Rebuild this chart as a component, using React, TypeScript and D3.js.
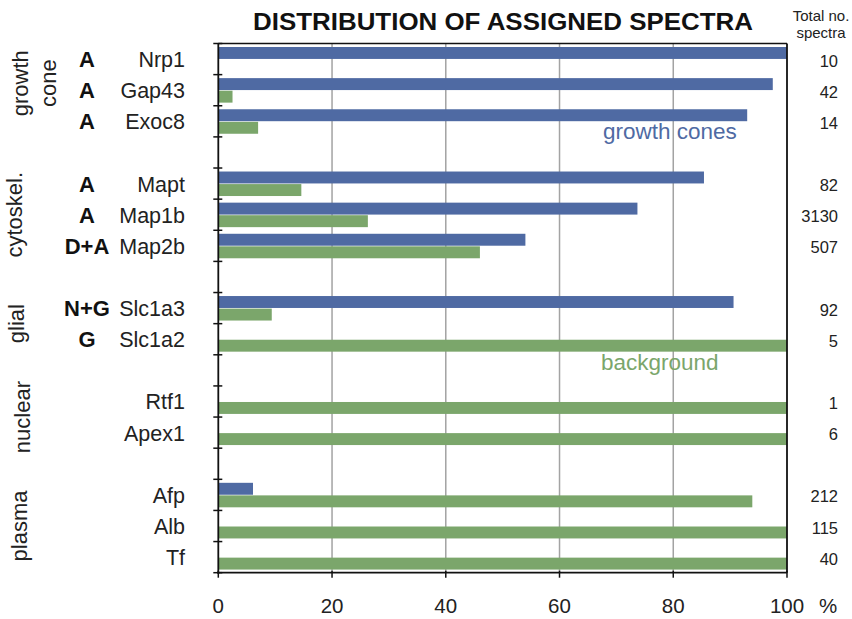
import React from "react";
import * as d3 from "d3";

// Proteins, their localisation codes and share of assigned spectra (%)
const genes = ["Nrp1", "Gap43", "Exoc8", "Mapt", "Map1b", "Map2b", "Slc1a3", "Slc1a2", "Rtf1", "Apex1", "Afp", "Alb", "Tf"];
const codes = ["A", "A", "A", "A", "A", "D+A", "N+G", "G", "", "", "", "", ""];
const growthCones = [100, 97.5, 93, 85.4, 73.7, 54, 90.6, 0, 0, 0, 6.1, 0, 0];
const background = [0, 2.5, 7, 14.6, 26.3, 46, 9.4, 100, 100, 100, 93.9, 100, 100];
const totals = [10, 42, 14, 82, 3130, 507, 92, 5, 1, 6, 212, 115, 40];

// Functional groups (rows per group) and their side labels
const groupSizes = [3, 3, 2, 2, 3];
const groupLabels = [["growth", "cone"], ["cytoskel."], ["glial"], ["nuclear"], ["plasma"]];

const xTicks = [0, 20, 40, 60, 80, 100];
const seriesKeys = ["growth cones", "background"];

const W = 852;
const H = 619;
const FONT = "'Liberation Sans', Arial, Helvetica, sans-serif";
const BLUE = "#4f6aa3";
const GREEN = "#7ba66b";

// Row slots: genes with an empty spacer slot between groups
const slots: string[] = [];
{
  let k = 0;
  groupSizes.forEach((n, gi) => {
    for (let i = 0; i < n; i++) slots.push(genes[k++]);
    if (gi < groupSizes.length - 1) slots.push(`__gap${gi}`);
  });
}

const x = d3.scaleLinear().domain([0, 100]).range([218.3, 787]);
const y = d3.scaleBand<string>().domain(slots).range([43.5, 572.7]).padding(0);
const inner = d3.scaleBand<string>().domain(seriesKeys).range([3.5, 28]).paddingInner(0.05);

const groupCenter = (gi: number) => {
  const start = groupSizes.slice(0, gi).reduce((a, b) => a + b, 0);
  const first = genes[start];
  const last = genes[start + groupSizes[gi] - 1];
  return ((y(first) as number) + (y(last) as number) + y.bandwidth()) / 2;
};

// Baseline positions of the rotated group labels (per line)
const groupLabelX = [[28, 56], [22], [24], [30], [27]];
const groupLabelDy = [-7, 0, 0, 0, 0];

export default function App() {
  const bw = y.bandwidth();
  const boundaries = slots.map((s) => y(s) as number).concat([572.7]);
  const [x0, x1] = x.range();
  const top = y.range()[0];
  const bottom = y.range()[1];

  return (
    <svg
      width={W}
      height={H}
      style={{ position: "absolute", left: 0, top: 0, background: "#fff", fontFamily: FONT }}
    >
      <rect x={0} y={0} width={W} height={H} fill="#fff" />

      {/* title */}
      <text
        x={503}
        y={30}
        textAnchor="middle"
        fontSize={24}
        fontWeight="bold"
        textLength={500}
        lengthAdjust="spacingAndGlyphs"
        fill="#111"
      >
        DISTRIBUTION OF ASSIGNED SPECTRA
      </text>

      {/* column header */}
      <text x={821} y={21} textAnchor="middle" fontSize={15} fill="#222">Total no.</text>
      <text x={821} y={38} textAnchor="middle" fontSize={15} fill="#222">spectra</text>

      {/* vertical grid lines */}
      {xTicks.slice(1, -1).map((t) => (
        <line key={t} x1={x(t)} x2={x(t)} y1={top} y2={bottom} stroke="#a3a3a3" strokeWidth={1.5} />
      ))}

      {/* bars */}
      {genes.map((g, i) => {
        const y0 = y(g) as number;
        return (
          <g key={g}>
            {growthCones[i] > 0 && (
              <rect
                x={x(0)}
                y={y0 + (inner("growth cones") as number)}
                width={x(growthCones[i]) - x(0)}
                height={inner.bandwidth()}
                fill={BLUE}
              />
            )}
            {background[i] > 0 && (
              <rect
                x={x(0)}
                y={y0 + (inner("background") as number)}
                width={x(background[i]) - x(0)}
                height={inner.bandwidth()}
                fill={GREEN}
              />
            )}
          </g>
        );
      })}

      {/* frame */}
      <line x1={x0} x2={x1} y1={top} y2={top} stroke="#111" strokeWidth={1.5} />
      <line x1={x1} x2={x1} y1={top} y2={bottom} stroke="#111" strokeWidth={1.8} />
      <line x1={x0} x2={x0} y1={top} y2={bottom + 1} stroke="#111" strokeWidth={1.8} />
      <line x1={x0 - 1} x2={x1} y1={bottom} y2={bottom} stroke="#111" strokeWidth={1.8} />

      {/* y tick marks at slot boundaries */}
      {boundaries.map((b, i) => (
        <line key={i} x1={x0 - 5} x2={x0 + 4} y1={b} y2={b} stroke="#111" strokeWidth={1.5} />
      ))}

      {/* x ticks and labels */}
      {xTicks.map((t) => (
        <g key={t}>
          <line x1={x(t)} x2={x(t)} y1={bottom - 2} y2={bottom + 5} stroke="#111" strokeWidth={1.5} />
          <text x={x(t)} y={613} textAnchor="middle" fontSize={20.5} fill="#222">{t}</text>
        </g>
      ))}
      <text x={828} y={613} textAnchor="middle" fontSize={20.5} fill="#222">%</text>

      {/* gene names, localisation codes, totals */}
      {genes.map((g, i) => {
        const cy = (y(g) as number) + bw / 2;
        return (
          <g key={g}>
            <text x={185} y={cy + 8} textAnchor="end" fontSize={21.5} fill="#222">{g}</text>
            {codes[i] && (
              <text x={87} y={cy + 8} textAnchor="middle" fontSize={22} fontWeight="bold" fill="#111">
                {codes[i]}
              </text>
            )}
            <text x={838} y={cy + 7.5} textAnchor="end" fontSize={16.5} fill="#222">{totals[i]}</text>
          </g>
        );
      })}

      {/* rotated group labels */}
      {groupLabels.map((lines, gi) => {
        const cy = groupCenter(gi) + groupLabelDy[gi];
        return lines.map((ln, li) => (
          <text
            key={`${gi}-${li}`}
            transform={`translate(${groupLabelX[gi][li]},${cy}) rotate(-90)`}
            textAnchor="middle"
            fontSize={22}
            fill="#222"
          >
            {ln}
          </text>
        ));
      })}

      {/* series labels */}
      <text x={603} y={139} fontSize={22.5} fill={BLUE}>growth cones</text>
      <text x={601} y={370} fontSize={22.5} fill={GREEN}>background</text>
    </svg>
  );
}
